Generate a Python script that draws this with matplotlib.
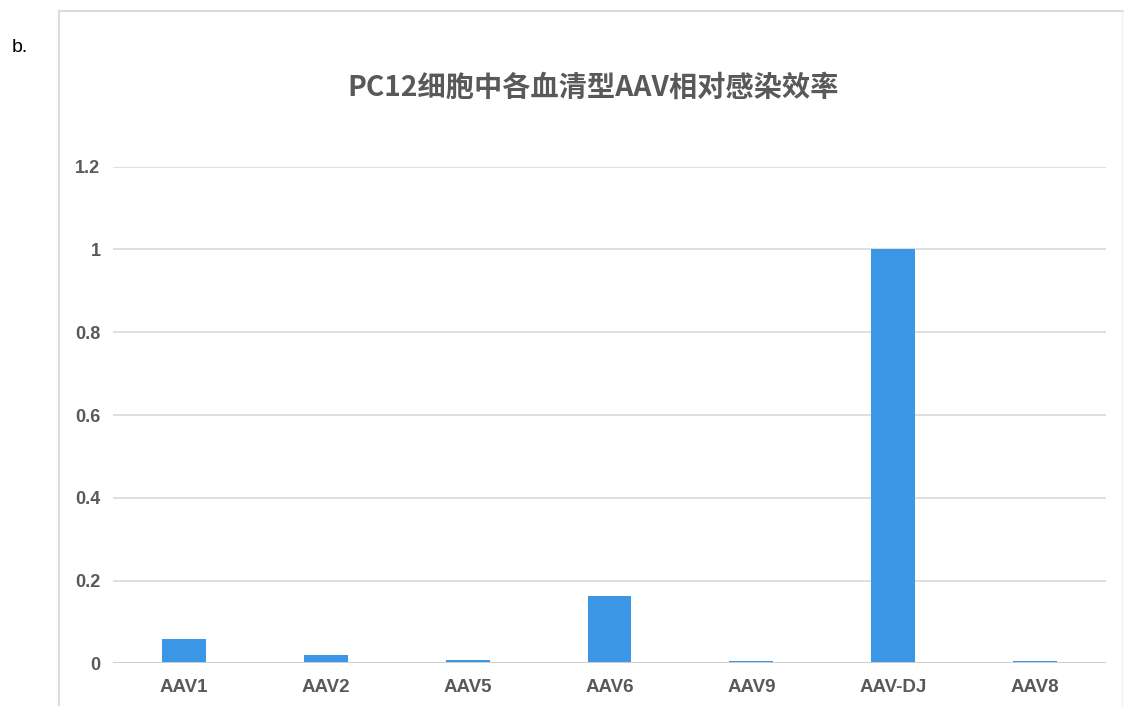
import matplotlib
matplotlib.use("Agg")
import matplotlib.pyplot as plt
from matplotlib.lines import Line2D

categories = ["AAV1", "AAV2", "AAV5", "AAV6", "AAV9", "AAV-DJ", "AAV8"]
values = [0.058, 0.019, 0.007, 0.163, 0.005, 1.0, 0.005]
yticks = [0, 0.2, 0.4, 0.6, 0.8, 1.0, 1.2]
ytick_labels = ["0", "0.2", "0.4", "0.6", "0.8", "1", "1.2"]
title = "PC12细胞中各血清型AAV相对感染效率"

plt.rcParams['font.family'] = ['Liberation Sans', 'Noto Sans CJK SC', 'DejaVu Sans']

W, H = 1124, 706
fig = plt.figure(figsize=(W / 100, H / 100), dpi=100)
fig.patch.set_facecolor("white")

ax = fig.add_axes([113 / W, 1 - 663.3 / H, (1106 - 113) / W, (663.3 - 166.7) / H])
x = list(range(len(categories)))
ax.bar(x, values, width=0.31, color="#3B96E6", zorder=3)
ax.set_xlim(-0.5, len(categories) - 0.5)
ax.set_ylim(0, 1.2)
ax.set_yticks(yticks)
ax.set_yticklabels(ytick_labels)
ax.set_xticks(x)
ax.set_xticklabels(categories)
ax.grid(axis="y", color="#d9d9d9", linewidth=1.2, zorder=0)
for s in ["top", "right", "left", "bottom"]:
    ax.spines[s].set_visible(False)
ax.axhline(0, color="#cfcfcf", linewidth=1.4, zorder=4)
ax.tick_params(axis="both", length=0, colors="#595959")
ax.tick_params(axis="y", pad=9)
ax.tick_params(axis="x", pad=11)
for lab in ax.get_yticklabels():
    lab.set_fontsize(13)
    lab.set_fontweight("bold")
for lab in ax.get_xticklabels():
    lab.set_fontsize(13.5)
    lab.set_fontweight("bold")

fig.text(593 / W, 1 - 88 / H, title, ha="center", va="center", fontsize=20.3,
         fontweight="bold", color="#595959",
         family=['Noto Sans CJK SC', 'DejaVu Sans'])

fig.text(20 / W, 1 - 47 / H, "b.", ha="center", va="center", fontsize=14,
         color="#000000", family=['Liberation Sans', 'DejaVu Sans'])

# outer frame of the chart area
frame_col = "#dcdcdc"
fig.add_artist(Line2D([59 / W, 59 / W], [0, 1 - 11 / H], transform=fig.transFigure,
                      color=frame_col, linewidth=1.5))
fig.add_artist(Line2D([59 / W, 1], [1 - 11 / H, 1 - 11 / H], transform=fig.transFigure,
                      color=frame_col, linewidth=1.5))
fig.add_artist(Line2D([1122 / W, 1122 / W], [0, 1 - 11 / H], transform=fig.transFigure,
                      color="#f0f0f0", linewidth=1.0))

fig.savefig("out.png", dpi=100, facecolor="white")
